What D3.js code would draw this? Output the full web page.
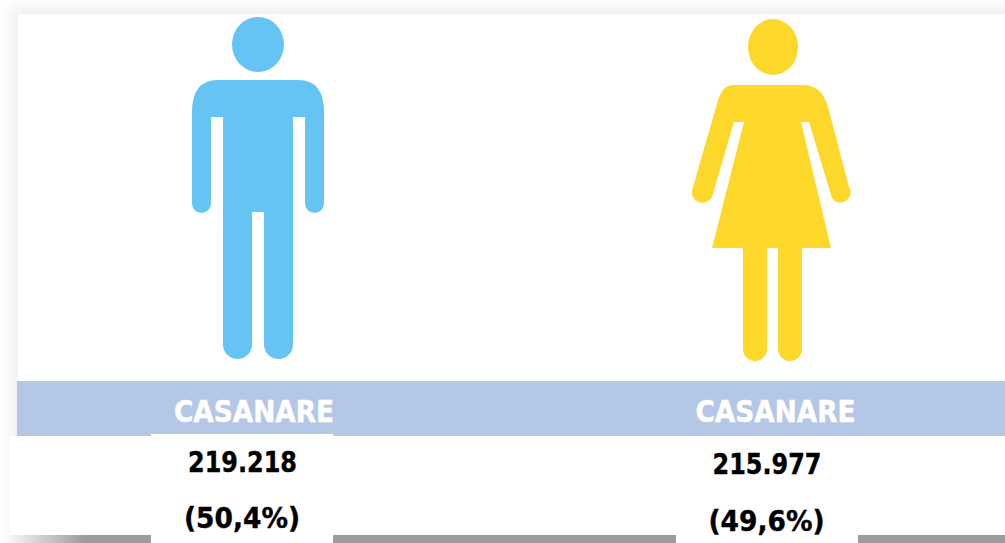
<!DOCTYPE html>
<html>
<head>
<meta charset="utf-8">
<script src="https://cdn.jsdelivr.net/npm/d3@7"></script>
<style>
html, body { margin: 0; padding: 0; background: #fff; overflow: hidden; }
text { font-family: "DejaVu Sans", sans-serif; font-weight: bold; text-anchor: middle; }
</style>
</head>
<body>
<div id="chart"></div>
<script>
var categories = ["Hombres", "Mujeres"];
var regionLabels = ["CASANARE", "CASANARE"];
var population = ["219.218", "215.977"];
var shares = ["(50,4%)", "(49,6%)"];
var figureColors = ["#66c4f4", "#fdd82c"];

var width = 1005, height = 543;

var svg = d3.select("#chart").append("svg")
    .attr("width", width)
    .attr("height", height)
    .style("display", "block");

var defs = svg.append("defs");
defs.append("filter").attr("id", "soft").attr("x", "-20%").attr("y", "-20%").attr("width", "140%").attr("height", "140%")
    .append("feGaussianBlur").attr("stdDeviation", 7);
defs.append("filter").attr("id", "icon")
    .append("feGaussianBlur").attr("stdDeviation", 0.7);
var fade = defs.append("linearGradient").attr("id", "fade");
fade.append("stop").attr("offset", "0").attr("stop-color", "#f6f6f6");
fade.append("stop").attr("offset", "1").attr("stop-color", "#9b9b9b");

// centre of each column
var x = d3.scaleOrdinal().domain(categories).range([258, 773]);

// card with its shadow
svg.append("rect").attr("x", 10).attr("y", 6).attr("width", 1040).attr("height", 560)
    .attr("fill", "#f0f0f0").attr("filter", "url(#soft)");
svg.append("rect").attr("x", 10).attr("y", 535).attr("width", 75).attr("height", 8).attr("fill", "url(#fade)");
svg.append("rect").attr("x", 85).attr("y", 535).attr("width", 920).attr("height", 8).attr("fill", "#9b9b9b");
svg.append("rect").attr("x", 18).attr("y", 14).attr("width", 987).attr("height", 367).attr("fill", "#fff");

// man, drawn around the column centre
var man = "M-40,80 H40 Q66,80 66,112 V203.5 A9.5,9.5 0 0 1 47,203.5 V117 H35 V344.5 A14.5,14.5 0 0 1 6,344.5 V212 H-6 V344.5 A14.5,14.5 0 0 1 -35,344.5 V117 H-47 V203.5 A9.5,9.5 0 0 1 -66,203.5 V112 Q-66,80 -40,80 Z";
// woman
var woman = "M-40,85 H30 Q49,85 55,107 L76,187 A10,10 0 0 1 59,198 L36,122 H28 L58,248 H29 V349 A12,12 0 0 1 5,349 V248 H-6 V349 A12,12 0 0 1 -30,349 V248 H-61 L-29,122 H-39 L-61,197 A10,10 0 0 1 -80,187 L-55,100 Q-50,85 -40,85 Z";
var bodies = [man, woman];
var heads = [{cy: 44.5, rx: 26, ry: 27.5}, {cy: 47, rx: 25, ry: 28}];

var figures = svg.selectAll("g.figure").data(categories).enter().append("g")
    .attr("class", "figure")
    .attr("transform", function(d) { return "translate(" + x(d) + ",0)"; })
    .attr("filter", "url(#icon)");
figures.append("ellipse")
    .attr("cy", function(d, i) { return heads[i].cy; })
    .attr("rx", function(d, i) { return heads[i].rx; })
    .attr("ry", function(d, i) { return heads[i].ry; })
    .attr("fill", function(d, i) { return figureColors[i]; });
figures.append("path")
    .attr("d", function(d, i) { return bodies[i]; })
    .attr("fill", function(d, i) { return figureColors[i]; });

// blue band and the white boxes below it
svg.append("rect").attr("x", 17).attr("y", 381).attr("width", 988).attr("height", 55).attr("fill", "#b4c7e7");
svg.append("rect").attr("x", 10).attr("y", 436).attr("width", 995).attr("height", 99).attr("fill", "#fff");
svg.append("rect").attr("x", 151).attr("y", 434).attr("width", 182).attr("height", 109).attr("fill", "#fff");
svg.append("rect").attr("x", 676).attr("y", 436).attr("width", 182).attr("height", 107).attr("fill", "#fff");

var textX = [254, 775.5];
var regionY = [422, 422], popX = [242.5, 767], popY = [472, 474], shareX = [242, 766.5], shareY = [528, 531];

svg.selectAll("text.region").data(regionLabels).enter().append("text")
    .attr("class", "region")
    .attr("x", function(d, i) { return textX[i]; })
    .attr("y", function(d, i) { return regionY[i]; })
    .attr("font-size", 30)
    .attr("textLength", 160)
    .attr("lengthAdjust", "spacingAndGlyphs")
    .attr("fill", "#fff")
    .attr("stroke", "#fff")
    .attr("stroke-width", 0.5)
    .text(function(d) { return d; });

svg.selectAll("text.pop").data(population).enter().append("text")
    .attr("class", "pop")
    .attr("x", function(d, i) { return popX[i]; })
    .attr("y", function(d, i) { return popY[i]; })
    .attr("font-size", 28)
    .attr("textLength", 109)
    .attr("lengthAdjust", "spacingAndGlyphs")
    .attr("fill", "#000")
    .attr("stroke", "#000")
    .attr("stroke-width", 0.4)
    .text(function(d) { return d; });

svg.selectAll("text.share").data(shares).enter().append("text")
    .attr("class", "share")
    .attr("x", function(d, i) { return shareX[i]; })
    .attr("y", function(d, i) { return shareY[i]; })
    .attr("font-size", 28)
    .attr("textLength", 116)
    .attr("lengthAdjust", "spacingAndGlyphs")
    .attr("fill", "#000")
    .attr("stroke", "#000")
    .attr("stroke-width", 0.4)
    .text(function(d) { return d; });
</script>
</body>
</html>
